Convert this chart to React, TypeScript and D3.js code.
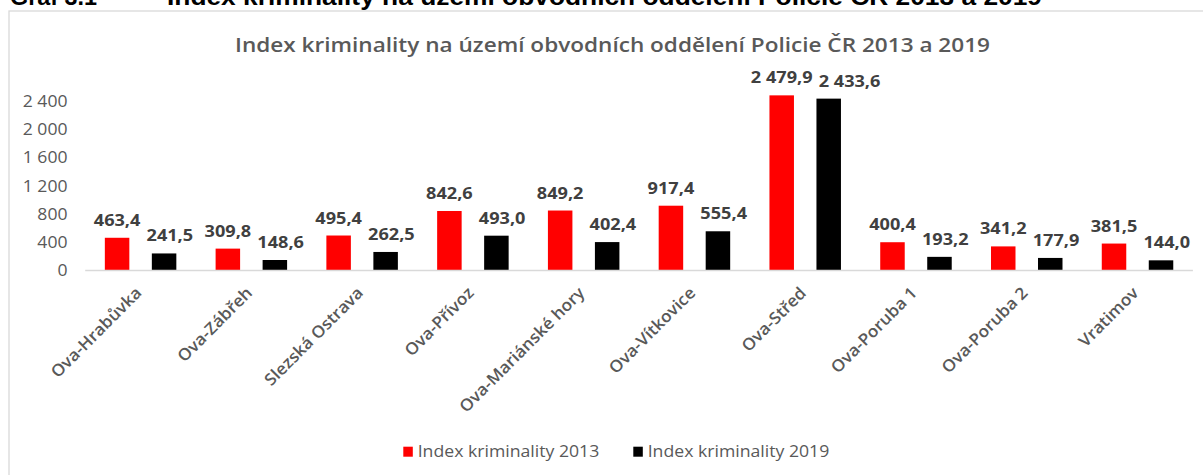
import React from "react";
import * as d3 from "d3";

const categories = [
  "Ova-Hrabůvka",
  "Ova-Zábřeh",
  "Slezská Ostrava",
  "Ova-Přívoz",
  "Ova-Mariánské hory",
  "Ova-Vítkovice",
  "Ova-Střed",
  "Ova-Poruba 1",
  "Ova-Poruba 2",
  "Vratimov",
];
const values2013 = [463.4, 309.8, 495.4, 842.6, 849.2, 917.4, 2479.9, 400.4, 341.2, 381.5];
const values2019 = [241.5, 148.6, 262.5, 493.0, 402.4, 555.4, 2433.6, 193.2, 177.9, 144.0];
const yTicks = [0, 400, 800, 1200, 1600, 2000, 2400];
const seriesNames = ["Index kriminality 2013", "Index kriminality 2019"];
const seriesColors = ["#ff0000", "#000000"];
const chartTitle = "Index kriminality na území obvodních oddělení Policie ČR 2013 a 2019";
const headerLabel = "Graf 3.1";

const W = 1203;
const H = 475;

const fmtNum = (v: number, dec: number) => {
  const s = v.toFixed(dec);
  const [i, f] = s.split(".");
  const ig = i.replace(/\B(?=(\d{3})+(?!\d))/g, " ");
  return f !== undefined ? ig + "," + f : ig;
};

// approximate rendered width of a value label (Open Sans Bold 15.5px, stretched 1.17)
const labelWidth = (t: string) => {
  let w = 0;
  for (const ch of t) w += ch === " " ? 0.26 : ch === "," ? 0.29 : 0.572;
  return w * 15.5 * 1.17;
};

export default function App() {
  const x = d3.scaleBand<string>().domain(categories).range([85.2, 1192.9]).paddingInner(0).paddingOuter(0);
  const y = d3.scaleLinear().domain([0, 2400]).range([270.5, 101]);
  const series = [values2013, values2019];
  const bw = 24.5;
  const off = 23.5;
  const fontUI = "'Open Sans', 'DejaVu Sans', sans-serif";

  return (
    <svg width={W} height={H} style={{ position: "absolute", left: 0, top: 0, background: "#fff" }}>
      {/* cut-off document caption */}
      <text x={10} y={5} fontFamily="'Liberation Sans', Arial, sans-serif" fontWeight="bold" fontSize={23} fill="#000" textLength={87} lengthAdjust="spacingAndGlyphs">
        {headerLabel}
      </text>
      <text x={167} y={5} fontFamily="'Liberation Sans', Arial, sans-serif" fontWeight="bold" fontSize={23} fill="#000" textLength={875} lengthAdjust="spacingAndGlyphs">
        {chartTitle}
      </text>
      {/* chart area border */}
      <rect x={9} y={11} width={1210} height={480} fill="#fff" stroke="#d9d9d9" strokeWidth={1.3} />
      {/* title */}
      <text x={235} y={51.5} fontFamily={fontUI} fontWeight={600} fontSize={20.5} fill="#595959" textLength={755} lengthAdjust="spacingAndGlyphs">
        {chartTitle}
      </text>
      {/* y tick labels */}
      {yTicks.map((t) => (
        <g key={t} transform={`translate(67.5, ${y(t) + 5.8}) scale(1.1,1)`}>
          <text x={0} y={0} textAnchor="end" fontFamily={fontUI} fontSize={16} fill="#595959">
            {fmtNum(t, 0)}
          </text>
        </g>
      ))}
      {/* bars */}
      {categories.map((c, i) => {
        const cx = (x(c) as number) + x.bandwidth() / 2;
        const t0 = fmtNum(values2013[i], 1);
        const t1 = fmtNum(values2019[i], 1);
        const x0 = cx - off;
        let x1 = cx + off;
        const overlap = x0 + labelWidth(t0) / 2 + 6 - (x1 - labelWidth(t1) / 2);
        if (overlap > 0) x1 += overlap;
        const lx = [x0, x1];
        return (
          <g key={c}>
            {series.map((vals, s) => {
              const bx = cx + (s === 0 ? -off : off);
              const top = y(vals[i]);
              return (
                <g key={s}>
                  <rect x={bx - bw / 2} y={top} width={bw} height={y(0) - top} fill={seriesColors[s]} />
                  <g transform={`translate(${lx[s]}, ${top - (overlap > 0 ? 12 : 14.5)}) scale(1.17,1)`}>
                    <text x={0} y={0} textAnchor="middle" fontFamily={fontUI} fontWeight="bold" fontSize={15.5} fill="#404040">
                      {s === 0 ? t0 : t1}
                    </text>
                  </g>
                </g>
              );
            })}
          </g>
        );
      })}
      {/* x axis line */}
      <line x1={85.2} x2={1192.9} y1={y(0)} y2={y(0)} stroke="#d9d9d9" strokeWidth={1.5} />
      {/* category labels */}
      {categories.map((c) => {
        const cx = (x(c) as number) + x.bandwidth() / 2;
        return (
          <g key={c} transform={`translate(${cx + 2}, ${294}) rotate(-45) scale(1.05,1)`}>
            <text x={0} y={0} textAnchor="end" fontFamily={fontUI} fontWeight={600} fontSize={16.5} fill="#595959">
              {c}
            </text>
          </g>
        );
      })}
      {/* legend */}
      {seriesNames.map((n, s) => {
        const lx = s === 0 ? 403.3 : 633.3;
        return (
          <g key={n}>
            <rect x={lx} y={446.7} width={9.5} height={10} fill={seriesColors[s]} />
            <text x={lx + 14.4} y={456.7} fontFamily={fontUI} fontSize={17} fontWeight={500} fill="#595959" textLength={181.6} lengthAdjust="spacingAndGlyphs">
              {n}
            </text>
          </g>
        );
      })}
    </svg>
  );
}
